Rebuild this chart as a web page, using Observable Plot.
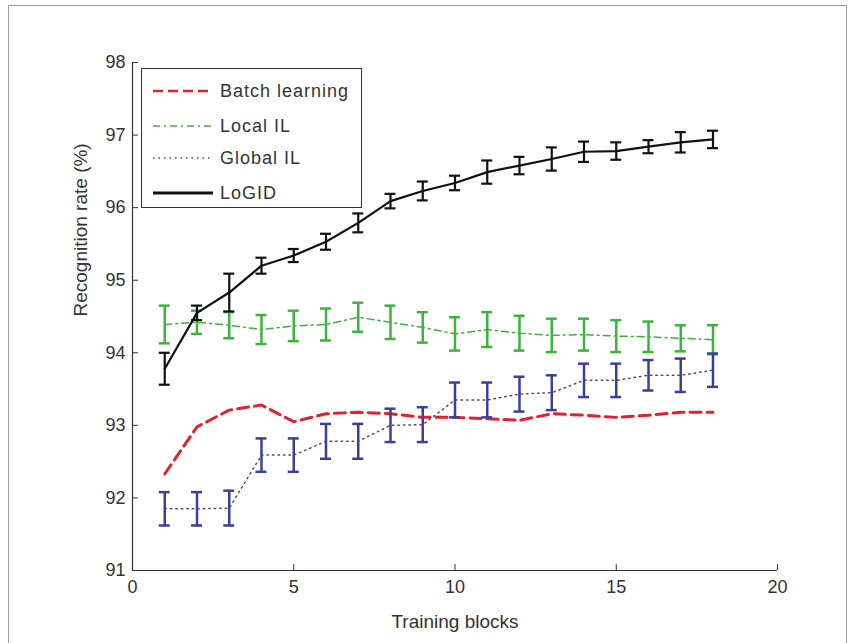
<!DOCTYPE html>
<html>
<head>
<meta charset="utf-8">
<script src="https://cdn.jsdelivr.net/npm/d3@7"></script>
<script src="https://cdn.jsdelivr.net/npm/@observablehq/plot@0.6"></script>
<style>
  html, body { margin: 0; padding: 0; background: #fff; width: 861px; height: 643px; overflow: hidden; }
  #wrap { position: relative; width: 861px; height: 643px; }
  #frame { position: absolute; left: 8px; top: 5px; width: 839px; height: 700px; border: 1px solid #9a9a9a; box-sizing: border-box; }
  #chart { position: absolute; left: 0; top: 0; }
  #legend { position: absolute; left: 141px; top: 68px; width: 221px; height: 140px; border: 1.5px solid #333; background: #fff; box-sizing: border-box; font-family: "Liberation Sans", Arial, sans-serif; font-size: 18px; color: #333; }
  .item { position: absolute; left: 0; height: 24px; width: 220px; }
  .item svg { position: absolute; left: 10px; top: 0; }
  .item span { position: absolute; left: 78px; top: 1px; line-height: 22px; letter-spacing: 1px; white-space: nowrap; }
</style>
</head>
<body>
<div id="wrap">
  <div id="frame"></div>
  <div id="chart"></div>
  <div id="legend"></div>
</div>
<script>
// ---- data ----
const blocks = [1, 2, 3, 4, 5, 6, 7, 8, 9, 10, 11, 12, 13, 14, 15, 16, 17, 18];
const batchLearning = [92.33, 92.98, 93.21, 93.28, 93.05, 93.16, 93.18, 93.16, 93.11, 93.11, 93.09, 93.07, 93.16, 93.14, 93.11, 93.14, 93.18, 93.18];
const localIL = [94.39, 94.42, 94.38, 94.32, 94.37, 94.39, 94.49, 94.42, 94.35, 94.26, 94.32, 94.27, 94.24, 94.25, 94.23, 94.22, 94.20, 94.18];
const localILErr = [0.26, 0.16, 0.18, 0.20, 0.21, 0.22, 0.20, 0.23, 0.21, 0.23, 0.24, 0.24, 0.23, 0.22, 0.22, 0.21, 0.18, 0.20];
const globalIL = [91.85, 91.85, 91.86, 92.59, 92.59, 92.78, 92.78, 93.00, 93.01, 93.35, 93.35, 93.43, 93.45, 93.62, 93.62, 93.69, 93.69, 93.76];
const globalILErr = [0.23, 0.23, 0.24, 0.23, 0.23, 0.24, 0.24, 0.23, 0.24, 0.24, 0.24, 0.24, 0.24, 0.23, 0.23, 0.21, 0.23, 0.23];
const logid = [93.78, 94.55, 94.83, 95.20, 95.34, 95.53, 95.79, 96.09, 96.23, 96.34, 96.49, 96.58, 96.67, 96.77, 96.78, 96.84, 96.90, 96.94];
const logidErr = [0.22, 0.10, 0.26, 0.11, 0.09, 0.11, 0.13, 0.10, 0.13, 0.10, 0.16, 0.12, 0.16, 0.14, 0.12, 0.09, 0.14, 0.12];
const xTicks = [0, 5, 10, 15, 20];
const yTicks = [91, 92, 93, 94, 95, 96, 97, 98];
const seriesNames = ["Batch learning", "Local IL", "Global IL", "LoGID"];
const seriesColors = ["#e3202c", "#3cb43c", "#3a3f9c", "#111111"];

// ---- build rows ----
const rows = (vals, errs) => blocks.map((x, i) => ({x, y: vals[i], e: errs ? errs[i] : 0}));
const batchRows = rows(batchLearning);
const localRows = rows(localIL, localILErr);
const globalRows = rows(globalIL, globalILErr);
const logidRows = rows(logid, logidErr);

const W = 861, H = 643, mL = 132, mR = 84, mT = 62, mB = 73;
const fw = W - mL - mR, fh = H - mT - mB;
const cap = 0.17;

function errorMarks(data, color, sw) {
  return [
    Plot.ruleX(data, {x: "x", y1: d => d.y - d.e, y2: d => d.y + d.e, stroke: color, strokeWidth: sw}),
    Plot.ruleY(data, {y: d => d.y - d.e, x1: d => d.x - cap, x2: d => d.x + cap, stroke: color, strokeWidth: sw}),
    Plot.ruleY(data, {y: d => d.y + d.e, x1: d => d.x - cap, x2: d => d.x + cap, stroke: color, strokeWidth: sw})
  ];
}

const chart = Plot.plot({
  width: W, height: H,
  marginLeft: mL, marginRight: mR, marginTop: mT, marginBottom: mB,
  x: {domain: [0, 20]},
  y: {domain: [91, 98]},
  style: {fontFamily: "'Liberation Sans', Arial, sans-serif", fontSize: "18px", color: "#333", background: "transparent", overflow: "visible"},
  marks: [
    Plot.axisX(xTicks, {tickSize: 0, tickPadding: 10, label: null, fontSize: 18, tickFormat: d3.format("d")}),
    Plot.axisY(yTicks, {tickSize: 0, tickPadding: 7, label: null, fontSize: 18, tickFormat: d3.format("d")}),
    Plot.tickX(xTicks, {x: d => d, insetTop: fh - 6, stroke: "#333", strokeWidth: 1}),
    Plot.tickY(yTicks, {y: d => d, insetRight: fw - 6, stroke: "#333", strokeWidth: 1}),
    Plot.ruleX([0], {stroke: "#333", strokeWidth: 1.2}),
    Plot.ruleY([91], {stroke: "#333", strokeWidth: 1.2}),
    // Batch learning
    Plot.line(batchRows, {x: "x", y: "y", stroke: seriesColors[0], strokeWidth: 3, strokeDasharray: "11,6"}),
    // Local IL
    Plot.line(localRows, {x: "x", y: "y", stroke: seriesColors[1], strokeWidth: 1.5, strokeDasharray: "7,4,2,4"}),
    ...errorMarks(localRows, seriesColors[1], 2.5),
    // Global IL
    Plot.line(globalRows, {x: "x", y: "y", stroke: "#4a4a80", strokeWidth: 1.5, strokeDasharray: "1.5,4"}),
    ...errorMarks(globalRows, seriesColors[2], 2.5),
    // LoGID
    Plot.line(logidRows, {x: "x", y: "y", stroke: seriesColors[3], strokeWidth: 2.2}),
    ...errorMarks(logidRows, seriesColors[3], 2.2),
    Plot.text(["Training blocks"], {frameAnchor: "bottom", dy: 57, fontSize: 19, fill: "#333", text: d => d, letterSpacing: "1.8px"}),
    Plot.text(["Recognition rate (%)"], {frameAnchor: "left", dx: -52, rotate: -90, fontSize: 19, fill: "#333", text: d => d, letterSpacing: "1.8px"})
  ]
});
document.getElementById("chart").appendChild(chart);

// ---- legend ----
const legend = document.getElementById("legend");
const dashes = ["10,5", "7,4,2,4", "1.5,4", null];
const lwidths = [2.5, 1.5, 1.5, 3];
const lcolors = [seriesColors[0], seriesColors[1], "#4a4a80", seriesColors[3]];
const tops = [10, 45, 77, 112];
seriesNames.forEach((name, i) => {
  const item = document.createElement("div");
  item.className = "item";
  item.style.top = tops[i] + "px";
  const svg = d3.create("svg").attr("width", 62).attr("height", 24);
  svg.append("line").attr("x1", 1).attr("x2", 61).attr("y1", 12).attr("y2", 12)
    .attr("stroke", lcolors[i]).attr("stroke-width", lwidths[i])
    .attr("stroke-dasharray", dashes[i]);
  item.appendChild(svg.node());
  const span = document.createElement("span");
  span.textContent = name;
  item.appendChild(span);
  legend.appendChild(item);
});
</script>
</body>
</html>
